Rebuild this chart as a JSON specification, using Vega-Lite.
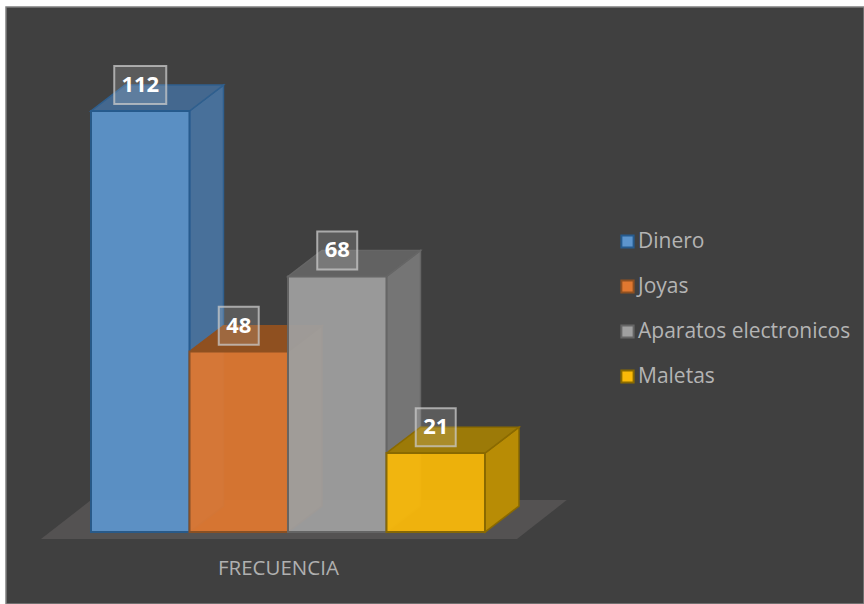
{
"$schema":"https://vega.github.io/schema/vega-lite/v6.json",
"width":864,"height":604,
"autosize":{"type":"fit","contains":"padding"},
"padding":{"left":6,"top":7,"right":0,"bottom":0},
"background":"#ffffff",
"config":{"view":{"fill":"#404040","stroke":"#7f7f7f","strokeWidth":1.5}},
"datasets":{"barras":[
{"categoria":"Dinero","orden":0,"valor":112},
{"categoria":"Joyas","orden":1,"valor":48},
{"categoria":"Aparatos electronicos","orden":2,"valor":68},
{"categoria":"Maletas","orden":3,"valor":21}]},
"data":{"name":"barras"},
"encoding":{
"x":{"field":"px","type":"quantitative","title":null,
"scale":{"domain":[-0.863,7.848],"nice":false,"zero":false},
"axis":{"values":[1.898],"labelExpr":"'FRECUENCIA'","domain":false,"ticks":false,"grid":false,"offset":-46,"labelPadding":0,"labelFont":"Open Sans","labelFontSize":20.5,"labelColor":"#b0b0b0","orient":"bottom"}},
"y":{"field":"py","type":"quantitative","title":null,"axis":null,
"scale":{"domain":[-19.14,139.67],"nice":false,"zero":false}},
"y2":{"field":"py2"}
},
"layer":[
{"data":{"values":[{"k":0},{"k":1},{"k":2},{"k":3}]},
"transform":[
{"calculate":"[-0.508,0,4.325,4.83][datum.k]","as":"px"},
{"calculate":"[-1.86,-1.86,-1.86,8.5][datum.k]","as":"py"},
{"calculate":"[-1.86,8.5,8.5,8.5][datum.k]","as":"py2"}],
"mark":{"type":"area","color":"#545252"}},
{"transform":[
{"calculate":"[0,1]","as":"k"},{"flatten":["k"]},
{"calculate":"datum.orden+1+datum.k*0.345","as":"px"},
{"calculate":"datum.k*6.9","as":"py"},
{"calculate":"datum.valor+datum.k*6.9","as":"py2"}],
"mark":{"type":"area","strokeWidth":1.5},
"encoding":{
"fill":{"field":"categoria","type":"nominal","legend":null,"scale":{"domain":["Dinero","Joyas","Aparatos electronicos","Maletas"],"range":["#48709A","#A66A34","#757575","#B88C05"]}},
"stroke":{"field":"categoria","type":"nominal","legend":null,"scale":{"domain":["Dinero","Joyas","Aparatos electronicos","Maletas"],"range":["#2F5F8E","#8F5020","#666666","#8A6A00"]}}}},
{"transform":[
{"calculate":"[0,1,2,3]","as":"k"},{"flatten":["k"]},
{"calculate":"[datum.orden,datum.orden+0.345,datum.orden+1,datum.orden+1.345][datum.k]","as":"px"},
{"calculate":"[datum.valor,datum.valor,datum.valor,datum.valor+6.9][datum.k]","as":"py"},
{"calculate":"[datum.valor,datum.valor+6.9,datum.valor+6.9,datum.valor+6.9][datum.k]","as":"py2"}],
"mark":{"type":"area","strokeWidth":1.5},
"encoding":{
"fill":{"field":"categoria","type":"nominal","legend":null,"scale":{"domain":["Dinero","Joyas","Aparatos electronicos","Maletas"],"range":["#44688F","#8F5020","#626262","#9C7A08"]}},
"stroke":{"field":"categoria","type":"nominal","legend":null,"scale":{"domain":["Dinero","Joyas","Aparatos electronicos","Maletas"],"range":["#2F5F8E","#8F5020","#666666","#8A6A00"]}}}},
{"transform":[
{"calculate":"datum.orden","as":"px"},
{"calculate":"datum.orden+1","as":"px2"},
{"calculate":"0","as":"py"},
{"calculate":"datum.valor","as":"py2"}],
"mark":{"type":"rect","strokeWidth":2,"opacity":0.93},
"encoding":{
"x2":{"field":"px2"},
"fill":{"field":"categoria","type":"nominal","title":null,
"scale":{"domain":["Dinero","Joyas","Aparatos electronicos","Maletas"],"range":["#5D95CD","#E07830","#A0A0A0","#FBBA08"]},
"legend":{"orient":"none","legendX":611,"legendY":224,"title":null,"symbolType":"square","symbolSize":150,"symbolStrokeWidth":2,"symbolOpacity":1,"labelFont":"Open Sans","labelFontSize":21,"labelColor":"#b4b4b4","labelOffset":0,"rowPadding":23,"labelLimit":300,"values":["Dinero","Joyas","Aparatos electronicos","Maletas"]}},
"stroke":{"field":"categoria","type":"nominal","title":null,
"scale":{"domain":["Dinero","Joyas","Aparatos electronicos","Maletas"],"range":["#265B8E","#8F5020","#666666","#8A6A00"]},
"legend":null}}},
{"transform":[
{"calculate":"datum.orden+0.5-(datum.valor>=100?0.264:0.203)","as":"px"},
{"calculate":"datum.orden+0.5+(datum.valor>=100?0.264:0.203)","as":"px2"},
{"calculate":"datum.valor+6.9-5.05","as":"py"},
{"calculate":"datum.valor+6.9+5.05","as":"py2"}],
"mark":{"type":"rect","fill":"#ffffff","fillOpacity":0.14,"stroke":"#c9c9c9","strokeOpacity":0.75,"strokeWidth":2},
"encoding":{"x2":{"field":"px2"}}},
{"transform":[
{"calculate":"datum.orden+0.5","as":"px"},
{"calculate":"datum.valor+6.9","as":"py"}],
"mark":{"type":"text","font":"Open Sans","fontWeight":"bold","fontSize":22,"color":"#ffffff","baseline":"middle","align":"center"},
"encoding":{"y2":{"value":null},"text":{"field":"valor","type":"quantitative"}}}
],
"resolve":{"scale":{"fill":"independent","stroke":"independent"}}
}
